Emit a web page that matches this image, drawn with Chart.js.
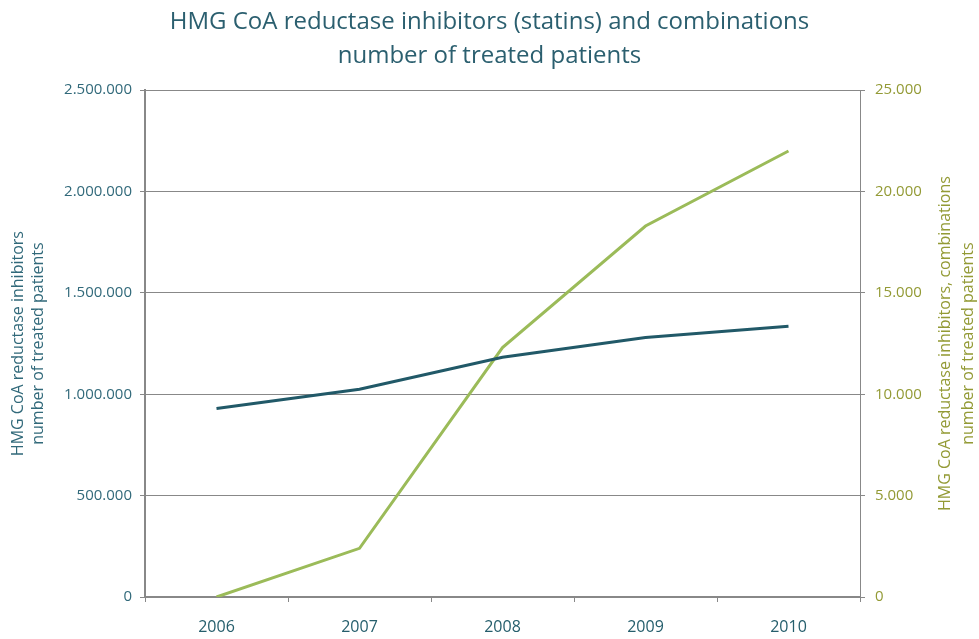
<!DOCTYPE html>
<html>
<head>
<meta charset="utf-8">
<title>HMG CoA reductase inhibitors (statins) and combinations</title>
<script src="https://cdn.jsdelivr.net/npm/chart.js"></script>
<style>
  html, body { margin: 0; padding: 0; background: #ffffff; }
  #wrap { width: 979px; height: 639px; position: relative; }
</style>
</head>
<body>
<div id="wrap"><canvas id="grafico"></canvas></div>
<script>
// Datos: pacientes tratados por año
const anios = ['2006', '2007', '2008', '2009', '2010'];
const estatinas = [930000, 1025000, 1183000, 1280000, 1336000];
const combinaciones = [0, 2400, 12300, 18300, 22000];

const ticksIzq = [0, 500000, 1000000, 1500000, 2000000, 2500000];
const ticksDer = [0, 5000, 10000, 15000, 20000, 25000];

const tituloGrafico = ['HMG CoA reductase inhibitors (statins) and combinations', 'number of treated patients'];
const tituloIzq = ['HMG CoA reductase inhibitors', 'number of treated patients'];
const tituloDer = ['HMG CoA reductase inhibitors, combinations', 'number of treated patients'];

const colorOscuro = '#215968';
const colorVerde = '#9bbb59';
const colorTextoIzq = '#31697a';
const colorTextoDer = '#939a35';
const gris = '#888888';
const fuente = "'Open Sans', sans-serif";

// separador de miles con punto
const miles = v => String(v).replace(/\B(?=(\d{3})+(?!\d))/g, '.');

// Título del eje derecho, leído de abajo hacia arriba
const tituloDerecho = {
  id: 'tituloDerecho',
  afterDraw(chart) {
    const { ctx, chartArea } = chart;
    const cy = (chartArea.top + chartArea.bottom) / 2;
    ctx.save();
    ctx.translate(945, cy);
    ctx.rotate(-Math.PI / 2);
    ctx.fillStyle = colorTextoDer;
    ctx.font = "16px 'Open Sans', sans-serif";
    ctx.textAlign = 'center';
    ctx.textBaseline = 'middle';
    tituloDer.forEach((t, i) => ctx.fillText(t, 0, i * 23));
    ctx.restore();
  }
};

new Chart(document.getElementById('grafico').getContext('2d'), {
  type: 'line',
  data: {
    labels: anios,
    datasets: [{
      label: 'HMG CoA reductase inhibitors',
      data: estatinas,
      borderColor: colorOscuro,
      borderWidth: 3,
      pointRadius: 0,
      tension: 0,
      yAxisID: 'y'
    }, {
      label: 'HMG CoA reductase inhibitors, combinations',
      data: combinaciones,
      borderColor: colorVerde,
      borderWidth: 3,
      pointRadius: 0,
      tension: 0,
      yAxisID: 'y1'
    }]
  },
  options: {
    responsive: true,
    maintainAspectRatio: false,
    animation: false,
    layout: { padding: 0 },
    plugins: {
      legend: { display: false },
      tooltip: { enabled: false },
      title: {
        display: true,
        text: tituloGrafico,
        color: '#2b5f6f',
        font: { family: fuente, size: 24, weight: 'normal', lineHeight: 1.42 },
        padding: { top: 5, bottom: 17 }
      }
    },
    scales: {
      x: {
        offset: true,
        grid: { offset: true, drawOnChartArea: false, drawTicks: true, tickLength: 5, color: gris },
        border: { color: gris, width: 2 },
        ticks: { color: '#255e6c', font: { family: fuente, size: 16 }, padding: 16 },
        afterFit(s) { s.height = 42; }
      },
      y: {
        position: 'left',
        min: 0,
        max: 2500000,
        afterBuildTicks(s) { s.ticks = ticksIzq.map(v => ({ value: v })); },
        grid: { color: gris, tickLength: 5, drawTicks: true },
        border: { color: gris, width: 2 },
        ticks: { color: colorTextoIzq, font: { family: fuente, size: 15 }, padding: 8, callback: v => miles(v) },
        title: {
          display: true,
          text: tituloIzq,
          color: colorTextoIzq,
          font: { family: fuente, size: 16, lineHeight: 1.25 },
          padding: { top: 8, bottom: 0 }
        },
        afterFit(s) { s.width = 145; }
      },
      y1: {
        position: 'right',
        min: 0,
        max: 25000,
        afterBuildTicks(s) { s.ticks = ticksDer.map(v => ({ value: v })); },
        grid: { drawOnChartArea: false, color: gris, tickLength: 5, drawTicks: true },
        border: { color: gris, width: 1 },
        ticks: { color: colorTextoDer, font: { family: fuente, size: 15 }, padding: 10, callback: v => miles(v) },
        afterFit(s) { s.width = 119; }
      }
    }
  },
  plugins: [tituloDerecho]
});
</script>
</body>
</html>
